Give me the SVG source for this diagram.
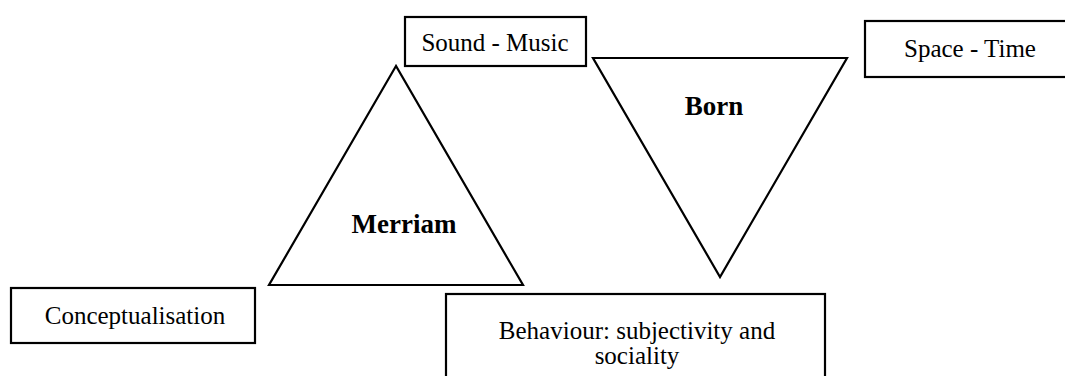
<svg xmlns="http://www.w3.org/2000/svg" width="1065" height="376" viewBox="0 0 1065 376">
  <style>
    .shape { fill: #ffffff; stroke: #000000; stroke-width: 2.2; }
    text { fill: #000000; text-anchor: middle; }
  </style>
  <rect width="1065" height="376" fill="#ffffff"/>
  <g id="connectors"></g>
  <g id="merriam">
    <polygon class="shape" points="396,66 269,285 523,285"/>
    <text x="404" y="233" font-family="'Liberation Serif', 'DejaVu Serif', serif" font-size="27" font-weight="bold">Merriam</text>
  </g>
  <g id="born">
    <polygon class="shape" points="593,58 847,58 720,277"/>
    <text x="714" y="115" font-family="'Liberation Serif', 'DejaVu Serif', serif" font-size="27" font-weight="bold">Born</text>
  </g>
  <g id="sound-music" font-family="'Liberation Serif', 'DejaVu Serif', serif" font-size="25">
    <rect class="shape" x="405" y="17" width="181" height="49"/>
    <text x="495" y="51">Sound - Music</text>
  </g>
  <g id="space-time" font-family="'Liberation Serif', 'DejaVu Serif', serif" font-size="25">
    <rect class="shape" x="865" y="21" width="210" height="56"/>
    <text x="970" y="57">Space - Time</text>
  </g>
  <g id="conceptualisation" font-family="'Liberation Serif', 'DejaVu Serif', serif" font-size="25">
    <rect class="shape" x="11" y="288" width="244" height="55"/>
    <text x="135" y="324">Conceptualisation</text>
  </g>
  <g id="behaviour" font-family="'Liberation Serif', 'DejaVu Serif', serif" font-size="25">
    <rect class="shape" x="446" y="294" width="379" height="100"/>
    <text x="637" y="339">Behaviour: subjectivity and</text>
    <text x="637" y="364">sociality</text>
  </g>
</svg>
